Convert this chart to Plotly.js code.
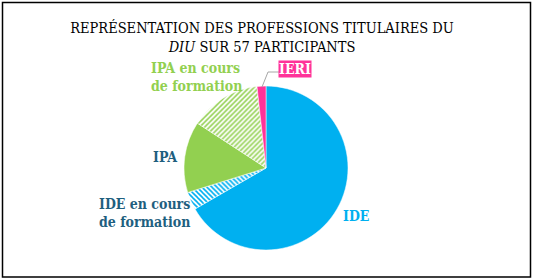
<!DOCTYPE html>
<html>
<head>
<meta charset="utf-8">
<script src="https://cdn.plot.ly/plotly-3.0.1.min.js"></script>
<style>html,body{margin:0;padding:0;background:#fff;}#chart{width:533px;height:279px;}</style>
</head>
<body>
<div id="chart"></div>
<script>
const categories = ["IDE", "IDE en cours de formation", "IPA", "IPA en cours de formation", "IERI"];
const counts = [38, 2, 8, 8, 1];
const sliceColors = ["#00B0F0", "#00B0F0", "#92D050", "#92D050", "#FF3399"];
const patterns = ["", "\\", "", "/", ""];

const W = 533, H = 279;
const cx = 266, cy = 168, R = 82;
const px = x => x / W;
const py = y => 1 - y / H;

const trace = {
  type: "pie",
  labels: categories,
  values: counts,
  sort: false,
  direction: "clockwise",
  rotation: 0,
  textinfo: "none",
  hoverinfo: "label+value",
  showlegend: false,
  domain: {x: [px(cx - R), px(cx + R)], y: [py(cy + R), py(cy - R)]},
  marker: {
    colors: sliceColors,
    line: {color: "#ffffff", width: 0.5},
    pattern: {
      shape: patterns,
      fgcolor: sliceColors,
      bgcolor: "#ffffff",
      size: 3.5,
      solidity: 0.45,
      fillmode: "replace"
    }
  }
};

const FAM = "DejaVu Serif Condensed, DejaVu Serif, serif";
const lblFont = (c) => ({family: FAM, size: 14, color: c, weight: "bold"});

const layout = {
  width: W, height: H,
  margin: {l: 0, r: 0, t: 0, b: 0},
  paper_bgcolor: "#ffffff",
  title: {
    text: "REPRÉSENTATION DES PROFESSIONS TITULAIRES DU<br><i>DIU</i> SUR 57 PARTICIPANTS",
    font: {family: FAM, size: 14.5, color: "#000000"},
    x: px(262), xanchor: "center",
    y: py(33), yanchor: "middle"
  },
  annotations: [
    {text: "IPA en cours<br>de formation", x: px(149), y: py(77), xref: "paper", yref: "paper",
     xanchor: "left", yanchor: "middle", align: "left", showarrow: false, font: lblFont("#92D050")},
    {text: "IERI", x: px(295), y: py(69.5), xref: "paper", yref: "paper",
     xanchor: "center", yanchor: "middle", showarrow: false, bgcolor: "#FF3399",
     borderpad: 0, font: lblFont("#ffffff")},
    {text: "IPA", x: px(165), y: py(157), xref: "paper", yref: "paper",
     xanchor: "center", yanchor: "middle", showarrow: false, font: lblFont("#1F5F7F")},
    {text: "IDE en cours<br>de formation", x: px(97), y: py(213), xref: "paper", yref: "paper",
     xanchor: "left", yanchor: "middle", align: "left", showarrow: false, font: lblFont("#1F5F7F")},
    {text: "IDE", x: px(356), y: py(216), xref: "paper", yref: "paper",
     xanchor: "center", yanchor: "middle", showarrow: false, font: lblFont("#00B0F0")}
  ],
  shapes: [
    {type: "rect", xref: "paper", yref: "paper", x0: px(2.5), x1: px(530.5), y0: py(277), y1: py(2.5),
     line: {color: "#000000", width: 1.5}, fillcolor: "rgba(0,0,0,0)"},
    {type: "path", xref: "paper", yref: "paper",
     path: `M ${px(262)} ${py(87)} L ${px(268)} ${py(72)} L ${px(279)} ${py(72)}`,
     line: {color: "#A6A6A6", width: 1}}
  ]
};

Plotly.newPlot("chart", [trace], layout, {displayModeBar: false, staticPlot: true});
</script>
</body>
</html>
